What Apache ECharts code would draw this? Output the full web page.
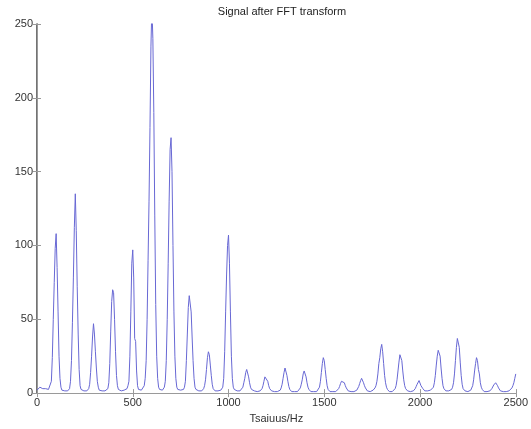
<!DOCTYPE html>
<html>
<head>
<meta charset="utf-8">
<script src="https://cdn.jsdelivr.net/npm/echarts@6/dist/echarts.min.js"></script>
<style>
  html, body { margin: 0; padding: 0; background: #fff; }
  #chart { width: 531px; height: 429px; }
</style>
</head>
<body>
<div id="chart"></div>
<script>
// Spectrum magnitude, one value every 5 Hz from 0 Hz to 2500 Hz.
const freqStepHz = 5;
const magnitude = [
  // 0 - 45 Hz
  2, 2.5, 3, 4, 4, 3.5, 3, 2.5, 2.5, 3,
  // 50 - 145 Hz
  3, 3, 2.5, 2.5, 3, 8, 24, 50, 75, 98, 108, 85, 55, 25, 10, 4, 2, 1.5, 1.5, 1.5,
  // 150 - 245 Hz
  1.5, 1.5, 1.5, 2, 3, 8, 22, 48, 78, 112, 135, 110, 72, 40, 16, 5, 2.5, 1.5, 1.5, 1.5,
  // 250 - 345 Hz
  1.5, 1.5, 1.5, 2, 3, 6, 14, 25, 38, 47, 40, 28, 17, 8, 4, 2, 1.5, 1.5, 1.5, 1.5,
  // 350 - 445 Hz
  1.5, 1.5, 1.5, 2, 3, 7, 20, 42, 62, 70, 68, 50, 28, 12, 5, 2.5, 1.5, 1.5, 1.5, 2,
  // 450 - 545 Hz
  2, 2, 2, 2.5, 3, 5, 8, 25, 55, 88, 97, 78, 37, 35, 15, 5, 2.5, 2, 2, 2,
  // 550 - 645 Hz
  2, 3, 5, 10, 22, 50, 90, 130, 180, 235, 262, 240, 190, 120, 60, 25, 10, 4, 2.5, 2,
  // 650 - 745 Hz
  2, 2, 2.5, 4, 8, 22, 50, 88, 130, 165, 173, 150, 100, 55, 25, 10, 4, 2.5, 2, 2,
  // 750 - 845 Hz
  2, 2, 2, 2.5, 4, 8, 22, 40, 58, 66, 67, 55, 38, 22, 10, 4, 2.5, 2, 1.5, 1.5,
  // 850 - 945 Hz
  1.5, 1.5, 1.5, 2, 3, 5, 9, 16, 24, 28, 26, 19, 12, 6, 3, 2, 1.5, 1.5, 1.5, 1.5,
  // 950 - 1045 Hz
  1.5, 1.5, 2, 2.5, 4, 10, 28, 55, 80, 100, 107, 88, 55, 25, 10, 4, 2.5, 2, 1.5, 1.5,
  // 1050 - 1145 Hz
  1.5, 1.5, 1.5, 2, 2.5, 4, 7, 10, 14, 16, 15, 11, 7, 4, 2.5, 2, 1.5, 1.5, 1, 1,
  // 1150 - 1245 Hz
  1, 1, 1, 1.5, 2, 3, 5, 8, 11, 12, 11, 8, 5, 3, 2, 1.5, 1, 1, 1, 1,
  // 1250 - 1345 Hz
  1, 1, 1, 1.5, 2, 3.5, 6, 10, 14, 17, 16, 12, 8, 4.5, 2.5, 1.5, 1, 1, 1, 1,
  // 1350 - 1445 Hz
  1, 1, 1, 1.5, 2, 3.5, 6, 9, 13, 15, 14, 11, 7, 4, 2.5, 1.5, 1, 1, 1, 1,
  // 1450 - 1545 Hz
  1, 1, 1, 1.5, 2, 4, 8, 14, 20, 24, 22, 16, 10, 5, 2.5, 1.5, 1, 1, 1, 1,
  // 1550 - 1645 Hz
  1, 1, 1, 1.5, 2, 3, 4.5, 6.5, 8, 9, 8.5, 7, 5, 3.5, 2.5, 1.5, 1, 1, 1, 1,
  // 1650 - 1745 Hz
  1, 1, 1, 1.5, 2, 3, 4.5, 6.5, 8.5, 10, 9, 7, 5, 3.5, 2.5, 1.5, 1, 1, 1, 1.5,
  // 1750 - 1845 Hz
  1.5, 2, 2.5, 3.5, 5, 8, 13, 20, 24, 30, 33, 28, 20, 12, 7, 4, 2.5, 1.5, 1, 1,
  // 1850 - 1945 Hz
  1, 1, 1.5, 2, 3, 5, 9, 15, 21, 26, 27, 22, 15, 9, 5, 3, 2, 1.5, 1, 1,
  // 1950 - 2045 Hz
  1, 1, 1, 1.5, 2, 3, 4.5, 6, 7, 8.5, 8, 5, 4, 3, 2, 1.5, 1.5, 1.5, 1.5, 2,
  // 2050 - 2145 Hz
  2, 2, 2.5, 3, 4, 7, 12, 19, 25, 29, 30, 25, 17, 10, 5, 3, 2, 1.5, 1.5, 1.5,
  // 2150 - 2245 Hz
  1.5, 1.5, 2, 2.5, 4, 7, 13, 22, 31, 37, 38, 31, 21, 12, 6, 3, 2, 1.5, 1, 1,
  // 2250 - 2345 Hz
  1, 1, 1.5, 2, 3, 5, 9, 15, 20, 24, 22, 16, 13, 7, 4, 2.5, 1.5, 1, 1, 1,
  // 2350 - 2445 Hz
  1, 1, 1, 1.5, 2, 3, 4, 5.5, 6.5, 7, 6.5, 5, 3.5, 2.5, 1.5, 1, 1, 1, 1, 1,
  // 2450 - 2500 Hz
  1, 1, 1, 1.5, 2, 2.5, 3.5, 5, 7, 10, 13
];

const xTicks = [0, 500, 1000, 1500, 2000, 2500];
const yTicks = [0, 50, 100, 150, 200, 250];

const titleText = 'Signal after FFT transform';
const xAxisName = 'Tsaiuus/Hz';

const points = magnitude.map((v, i) => [i * freqStepHz, v]);

const labelFont = { fontFamily: 'Liberation Sans, Arial, sans-serif', fontSize: 11, color: '#333' };
const frameLine = { show: true, lineStyle: { color: '#9a9a9a', width: 1 } };
const innerTick = { show: true, inside: true, length: 4, lineStyle: { color: '#9a9a9a' } };
const plainNumber = (v) => String(v);

const chart = echarts.init(document.getElementById('chart'), null, { renderer: 'canvas' });
chart.setOption({
  animation: false,
  backgroundColor: '#fff',
  title: {
    text: titleText,
    left: 277,
    textAlign: 'center',
    top: 1,
    textStyle: { fontFamily: 'Liberation Sans, Arial, sans-serif', fontSize: 11, fontWeight: 'normal', color: '#222' }
  },
  grid: { left: 37, right: 15, top: 24, bottom: 26, containLabel: false },
  xAxis: [
    {
      type: 'value', position: 'bottom',
      min: xTicks[0], max: xTicks[xTicks.length - 1], interval: 500,
      name: xAxisName, nameLocation: 'middle', nameGap: 15,
      nameTextStyle: labelFont,
      axisLine: frameLine, axisTick: innerTick,
      axisLabel: Object.assign({ margin: 4, formatter: plainNumber }, labelFont),
      splitLine: { show: false }
    },
    {
      type: 'value', position: 'top',
      min: xTicks[0], max: xTicks[xTicks.length - 1], interval: 500,
      axisLine: frameLine, axisTick: innerTick,
      axisLabel: { show: false }, splitLine: { show: false }
    }
  ],
  yAxis: [
    {
      type: 'value', position: 'left',
      min: yTicks[0], max: yTicks[yTicks.length - 1], interval: 50,
      axisLine: { show: true, lineStyle: { color: '#444', width: 1.5 } },
      axisTick: innerTick,
      axisLabel: Object.assign({ margin: 4, formatter: plainNumber }, labelFont),
      splitLine: { show: false }
    },
    {
      type: 'value', position: 'right',
      min: yTicks[0], max: yTicks[yTicks.length - 1], interval: 50,
      axisLine: frameLine, axisTick: innerTick,
      axisLabel: { show: false }, splitLine: { show: false }
    }
  ],
  series: [{
    type: 'line',
    xAxisIndex: 0, yAxisIndex: 0,
    data: points,
    showSymbol: false,
    clip: true,
    lineStyle: { color: '#6868d4', width: 1 }
  }]
});
</script>
</body>
</html>
